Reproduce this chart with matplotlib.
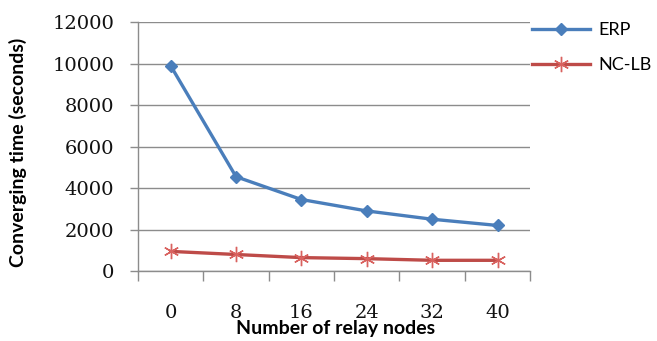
import numpy as np
import matplotlib
matplotlib.use("Agg")
import matplotlib.pyplot as plt
from matplotlib.ticker import FixedLocator, NullFormatter

# ── Data ──────────────────────────────────────────────────────────────────────
relay_nodes = ["0", "8", "16", "24", "32", "40"]
erp = [9900, 4550, 3450, 2900, 2500, 2200]
nc_lb = [950, 800, 650, 600, 520, 520]

C_ERP = "#4A7EBB"
C_NCLB = "#BE4B48"
GRID = "#8C8C8C"

fig = plt.figure(figsize=(6.57, 3.41), dpi=100)
ax = fig.add_axes([0.210, 0.205, 0.597, 0.730])

x = np.arange(len(relay_nodes))
ax.plot(x, erp, color=C_ERP, lw=2.4, marker="D", markersize=6,
        markerfacecolor=C_ERP, markeredgecolor=C_ERP, label="ERP", zorder=3)
ax.plot(x, nc_lb, color=C_NCLB, lw=2.4, marker=(6, 2, 0), markersize=11,
        markeredgecolor="#D9625F", markeredgewidth=1.0, label="NC-LB", zorder=3)

ax.set_xlim(-0.5, len(relay_nodes) - 0.5)
ax.set_ylim(0, 12000)
ax.set_yticks(range(0, 12001, 2000))
ax.yaxis.grid(True, color=GRID, lw=1.0)
ax.set_axisbelow(True)

# category labels centred, tick marks on the boundaries
ax.set_xticks(x)
ax.set_xticklabels(relay_nodes)
ax.tick_params(axis="x", which="major", length=0, pad=24)
ax.xaxis.set_minor_locator(FixedLocator(np.arange(-0.5, len(relay_nodes), 1.0)))
ax.xaxis.set_minor_formatter(NullFormatter())
ax.tick_params(axis="x", which="minor", length=7, width=1.0, color=GRID, direction="out")
ax.tick_params(axis="y", length=6, width=1.0, color=GRID, pad=11)

for lbl in ax.get_xticklabels() + ax.get_yticklabels():
    lbl.set_fontfamily("DejaVu Serif")
    lbl.set_fontsize(14)
    lbl.set_color("#111111")

for side in ["top", "right"]:
    ax.spines[side].set_visible(False)
for side in ["left", "bottom"]:
    ax.spines[side].set_color(GRID)
    ax.spines[side].set_linewidth(1.0)

ax.set_xlabel("Number of relay nodes", family="Lato", fontweight="bold",
              fontsize=14, va="center")
ax.xaxis.set_label_coords(0.503, -0.232)
ax.set_ylabel("Converging time (seconds)", family="Lato", fontweight="bold",
              fontsize=14, va="center")
ax.yaxis.set_label_coords(-0.306, 0.478)

ax.legend(loc="upper left", bbox_to_anchor=(1.005, 1.0), frameon=False,
          prop={"family": "Lato", "size": 13}, handlelength=3.2,
          handletextpad=0.45, labelspacing=1.05, borderpad=0, borderaxespad=0)

fig.savefig("out.png", dpi=100)
